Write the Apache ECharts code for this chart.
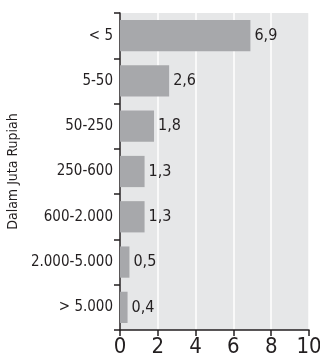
<!DOCTYPE html>
<html>
<head>
<meta charset="utf-8">
<script src="https://cdn.jsdelivr.net/npm/echarts@6/dist/echarts.min.js"></script>
<style>
  html, body { margin: 0; padding: 0; background: #fff; }
  #main { width: 320px; height: 360px; }
</style>
</head>
<body>
<div id="main"></div>
<script>
// kategori (atas ke bawah) dan nilai
const categories = ['< 5', '5-50', '50-250', '250-600', '600-2.000', '2.000-5.000', '> 5.000'];
const values = [6.9, 2.6, 1.8, 1.3, 1.3, 0.5, 0.4];
const xTicks = [0, 2, 4, 6, 8, 10];

const FONT = '"Liberation Sans Narrow", "DejaVu Sans Condensed", sans-serif';
const INK = '#231f20';

const chart = echarts.init(document.getElementById('main'));
chart.setOption({
  animation: false,
  grid: {
    left: 120, right: 11, top: 13, bottom: 30,
    outerBoundsMode: 'none',
    containLabel: false,
    show: true, backgroundColor: '#e6e7e8', borderWidth: 0
  },
  xAxis: {
    type: 'value',
    min: xTicks[0], max: xTicks[xTicks.length - 1], interval: 2,
    axisLine: { show: true, lineStyle: { color: INK, width: 1.5 } },
    axisTick: { show: true, length: 6, lineStyle: { color: INK, width: 1.5 } },
    splitLine: { show: true, lineStyle: { color: '#ffffff', width: 1.5 } },
    axisLabel: { color: INK, fontFamily: FONT, fontSize: 22, margin: 6 }
  },
  yAxis: {
    type: 'category',
    data: categories,
    inverse: true,
    name: 'Dalam Juta Rupiah',
    nameLocation: 'middle',
    nameGap: 98,
    nameRotate: 90,
    nameTextStyle: { color: INK, fontFamily: FONT, fontSize: 14 },
    axisLine: { show: true, lineStyle: { color: INK, width: 1.5 } },
    axisTick: { show: true, length: 6, alignWithLabel: false, lineStyle: { color: INK, width: 1.5 } },
    splitLine: { show: false },
    axisLabel: { color: INK, fontFamily: FONT, fontSize: 15, margin: 7 }
  },
  series: [{
    type: 'bar',
    data: values,
    barCategoryGap: '31%',
    itemStyle: { color: '#a7a8ab' },
    label: {
      show: true,
      position: 'right',
      distance: 4,
      color: INK,
      fontFamily: FONT,
      fontSize: 16,
      formatter: p => String(p.value).replace('.', ',')
    }
  }]
});
</script>
</body>
</html>
